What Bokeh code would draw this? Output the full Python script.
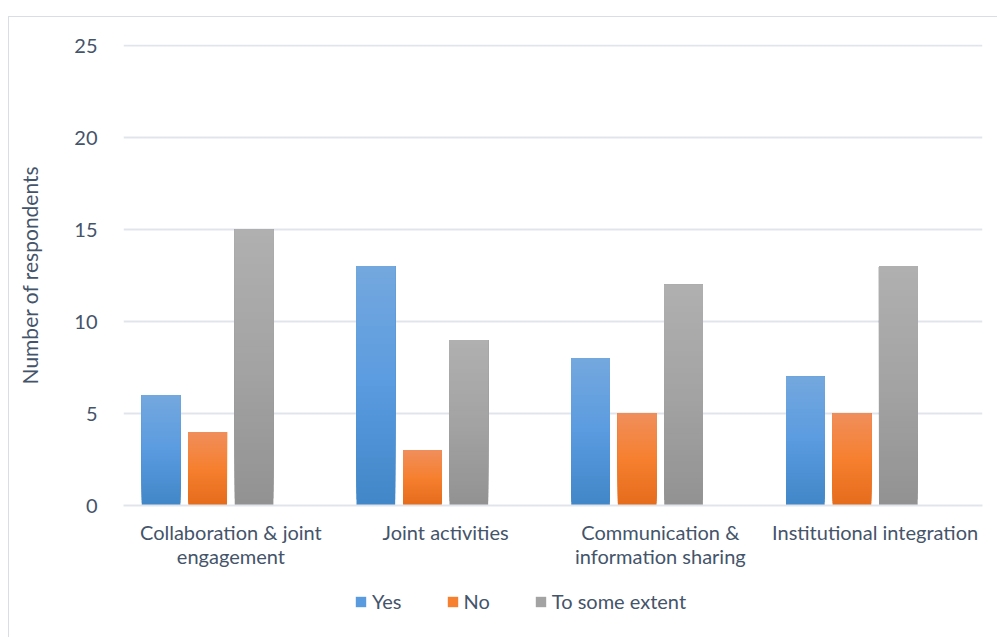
from bokeh.plotting import figure
from bokeh.layouts import column
from bokeh.models import (FactorRange, Range1d, FixedTicker, ColumnDataSource, Legend,
                          LegendItem, InlineStyleSheet)
from bokeh.transform import dodge
from bokeh.embed import file_html
from bokeh.resources import INLINE

categories = ["Collaboration & joint\nengagement", "Joint activities",
              "Communication &\ninformation sharing", "Institutional integration"]
series_names = ["Yes", "No", "To some extent"]
yes_values = [6, 13, 8, 7]
no_values = [4, 3, 5, 5]
some_values = [15, 9, 12, 13]
y_ticks = [0, 5, 10, 15, 20, 25]

series_values = [yes_values, no_values, some_values]
# gradient stops (bottom, middle, top)
stops = [
    ("#4186c7", "#5a9be0", "#74a8de"),
    ("#e46b1b", "#f6802f", "#f08e5b"),
    ("#929292", "#a3a3a3", "#b0b0b0"),
]
offsets = [-0.325, -0.108, 0.108]
bar_w = 0.18

TXT = "#44546a"
GRID = "#e1e5eb"
BORDER = "#d9dde4"
FONT = "Lato"

def hex2rgb(h):
    h = h.lstrip("#")
    return tuple(int(h[i:i + 2], 16) for i in (0, 2, 4))

def mix(a, b, t):
    ra, rb = hex2rgb(a), hex2rgb(b)
    return "#%02x%02x%02x" % tuple(round(x + (y - x) * t) for x, y in zip(ra, rb))

def grad(st, t):
    if t < 0.5:
        return mix(st[0], st[1], t / 0.5)
    return mix(st[1], st[2], (t - 0.5) / 0.5)

H1 = 580
p = figure(width=997, height=H1, x_range=FactorRange(*categories), y_range=Range1d(0, 25.06),
           output_backend="svg", toolbar_location=None,
           min_border_left=123, min_border_right=15, min_border_top=44,
           min_border_bottom=H1 - 505)
p.outline_line_color = None
p.background_fill_color = "white"
p.border_fill_color = "white"
p.stylesheets = [InlineStyleSheet(css=(
    ":host::after { content: ''; position: fixed; left: 8px; top: 16px; right: 0px; "
    "bottom: 0px; border-top: 1px solid %s; border-left: 1px solid %s; "
    "pointer-events: none; z-index: 10; }" % (BORDER, BORDER)))]

# each bar is drawn as overlapping layers (all reaching the bar's top) to give a
# seamless vertical gradient
N = 40
for name, vals, st, off in zip(series_names, series_values, stops, offsets):
    cats, bots, tops, cols = [], [], [], []
    for c, v in zip(categories, vals):
        for i in range(N):
            cats.append(c)
            bots.append(v * i / N)
            tops.append(v)
            cols.append(grad(st, (i + 0.5) / N))
    src = ColumnDataSource(dict(cat=cats, bottom=bots, top=tops, color=cols))
    p.vbar(x=dodge("cat", off, range=p.x_range), top="top", bottom="bottom", width=bar_w,
           source=src, fill_color="color", line_color=None)

# axes
p.yaxis.ticker = FixedTicker(ticks=y_ticks)
p.yaxis.axis_line_color = None
p.yaxis.major_tick_line_color = None
p.yaxis.minor_tick_line_color = None
p.yaxis.major_label_standoff = 20
p.yaxis.major_label_text_font = FONT
p.yaxis.major_label_text_font_size = "20px"
p.yaxis.major_label_text_color = TXT
p.yaxis.axis_label = "Number of respondents"
p.yaxis.axis_label_text_font = FONT
p.yaxis.axis_label_text_font_size = "21px"
p.yaxis.axis_label_text_font_style = "normal"
p.yaxis.axis_label_text_color = TXT
p.yaxis.axis_label_standoff = 29

p.xaxis.axis_line_color = GRID
p.xaxis.axis_line_width = 2
p.xaxis.major_tick_line_color = None
p.xaxis.minor_tick_line_color = None
p.xaxis.major_label_standoff = 8
p.xaxis.major_label_text_font = FONT
p.xaxis.major_label_text_font_size = "20px"
p.xaxis.major_label_text_line_height = 1.0
p.xaxis.major_label_text_color = TXT

p.xgrid.grid_line_color = None
p.ygrid.grid_line_color = GRID
p.ygrid.grid_line_width = 2

# legend strip below the chart
H2 = 637 - H1
q = figure(width=997, height=H2, x_range=Range1d(0, 1), y_range=Range1d(0, 1),
           output_backend="svg", toolbar_location=None, min_border=0)
q.outline_line_color = None
q.axis.visible = False
q.grid.visible = False
q.background_fill_color = "white"
q.border_fill_color = "white"

legend_items = []
for name, st in zip(series_names, stops):
    # zero-height mark, only used for the legend swatch
    r = q.vbar(x=[0.5], top=[0], bottom=[0], width=0.0, fill_color=st[1],
               line_color=None)
    legend_items.append(LegendItem(label=name, renderers=[r]))

legend = Legend(items=legend_items, orientation="horizontal", location=(231, H2 - 33),
                glyph_width=13, glyph_height=13, label_standoff=5, label_width=1,
                spacing=44, padding=0, margin=0, border_line_color=None,
                background_fill_alpha=0, label_text_font=FONT,
                label_text_font_size="20px", label_text_color=TXT)
q.add_layout(legend, "center")

layout = column(p, q, spacing=0)
open("out.html", "w").write(file_html(layout, INLINE))
